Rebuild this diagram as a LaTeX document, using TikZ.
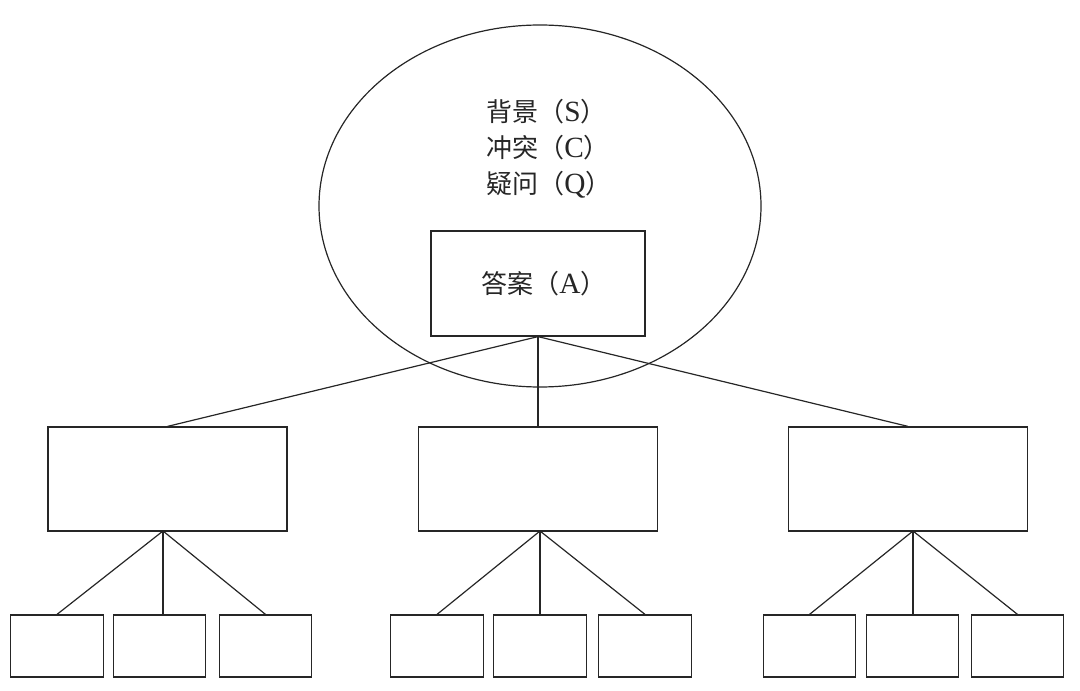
\documentclass[tikz,border=0pt]{standalone}
\usepackage{fontspec}
\setmainfont{Liberation Serif}
\newfontfamily\cjk{Noto Sans CJK SC}
\usetikzlibrary{shapes.geometric}
\newcommand{\lat}[1]{{\fontsize{22}{27}\selectfont #1}}
\begin{document}
\begin{tikzpicture}[x=0.75pt,y=-0.75pt,
  line width=0.9pt, draw=black!85,
  oval/.style={draw, ellipse, minimum width=331.5pt, minimum height=271.5pt, inner sep=0pt},
  ansbox/.style={draw, rectangle, minimum width=160.5pt, minimum height=78.75pt, inner sep=0pt},
  midbox/.style={draw, rectangle, minimum width=179.25pt, minimum height=78pt, inner sep=0pt},
  leafbox/.style={draw, rectangle, minimum width=69.4pt, minimum height=46.5pt, inner sep=0pt},
  lbl/.style={font=\fontsize{19.5}{27}\selectfont, text=black!85},
  link/.style={draw=black!85, line width=0.9pt}]
\useasboundingbox (0,0) rectangle (1080,691);
\node[oval] (scq) at (540,206) {};
\node[lbl, align=left, inner sep=0pt] (txt) at (549,149) {{\cjk 背景（}\lat{S}{\cjk ）}\\{\cjk 冲突（}\lat{C}{\cjk ）}\\{\cjk 疑问（}\lat{Q}{\cjk ）}};
\node[ansbox] (ans) at (538,283.5) {};
\node[lbl] (anstxt) at (544,283.5) {{\cjk 答案（}\lat{A}{\cjk ）}};
\node[midbox] (m1) at (167.5,479) {};
\node[midbox] (m2) at (538,479) {};
\node[midbox] (m3) at (908,479) {};
\node[leafbox] (l11) at (57,646) {};
\node[leafbox] (l12) at (159.5,646) {};
\node[leafbox] (l13) at (265.5,646) {};
\node[leafbox] (l21) at (437,646) {};
\node[leafbox] (l22) at (540,646) {};
\node[leafbox] (l23) at (645,646) {};
\node[leafbox] (l31) at (809.5,646) {};
\node[leafbox] (l32) at (912.5,646) {};
\node[leafbox] (l33) at (1017.5,646) {};
\draw[link] (ans.south) -- (m1.north);
\draw[link] (ans.south) -- (m2.north);
\draw[link] (ans.south) -- (m3.north);
\coordinate (b1) at (163,531);
\coordinate (b2) at (540,531);
\coordinate (b3) at (913,531);
\draw[link] (b1) -- (l11.north);
\draw[link] (b1) -- (b1 |- l12.north);
\draw[link] (b1) -- (l13.north);
\draw[link] (b2) -- (l21.north);
\draw[link] (b2) -- (l22.north);
\draw[link] (b2) -- (l23.north);
\draw[link] (b3) -- (l31.north);
\draw[link] (b3) -- (b3 |- l32.north);
\draw[link] (b3) -- (l33.north);
\end{tikzpicture}
\end{document}
